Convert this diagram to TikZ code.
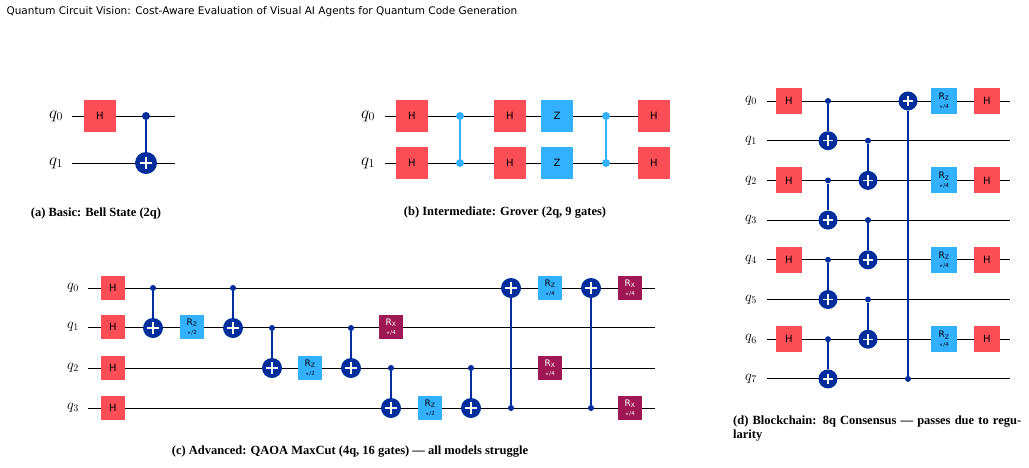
\documentclass[tikz,border=0pt]{standalone}
\usepackage{fontspec}
\setmainfont{Liberation Serif}
\newfontfamily\gatefont{DejaVu Sans}
\newfontfamily\titlefont{DejaVu Sans}
\usepackage{amsmath}
\definecolor{hred}{HTML}{FA4D56}
\definecolor{rzblue}{HTML}{33B1FF}
\definecolor{rxred}{HTML}{9F1853}
\definecolor{cxnavy}{HTML}{002D9C}
\tikzset{
  wire/.style={line width=1pt},
  gate/.style={minimum width=#1, minimum height=#1, inner sep=0pt, font=\gatefont\fontsize{10}{11}\selectfont, align=center},
  hg/.style={gate=#1, fill=hred},
  rz/.style={gate=#1, fill=rzblue},
  rx/.style={gate=#1, fill=rxred, text=white},
  ctrl/.style={circle, fill=cxnavy, minimum size=6pt, inner sep=0pt},
  czdot/.style={circle, fill=rzblue, minimum size=6pt, inner sep=0pt},
  tgt/.style={circle, fill=cxnavy, minimum size=#1, inner sep=0pt,
    path picture={\draw[white, line width=1.4pt]
      ([yshift=-0.22*#1]path picture bounding box.north) -- ([yshift=0.22*#1]path picture bounding box.south)
      ([xshift=0.22*#1]path picture bounding box.west) -- ([xshift=-0.22*#1]path picture bounding box.east);}},
  qlab/.style={font=\fontsize{#1}{#1}\selectfont},
  subcap/.style={font=\bfseries\fontsize{12.5}{15}\selectfont}
}
\newcommand{\rlab}[2]{{\fontsize{9}{9}\selectfont R\textsubscript{#1}}\\[-2pt]{\fontsize{5.5}{6}\selectfont $\pi$/#2}}
\begin{document}
\begin{tikzpicture}[x=1pt,y=-1pt]
\useasboundingbox (0,0) rectangle (1029,467);
\node[anchor=west, font=\titlefont\fontsize{10.5}{12}\selectfont] (title) at (3,12) {Quantum Circuit Vision: Cost-Aware Evaluation of Visual AI Agents for Quantum Code Generation};

% (a) Bell
\foreach \i/\y in {0/116,1/163} {
  \node[qlab=17] (aq\i) at (56,\y) {$q_\i$};
  \coordinate (as\i) at (72,\y); \coordinate (ae\i) at (175,\y);
  \draw[wire] (as\i) -- (ae\i);
}
\node[hg=32pt] (ah) at (100,116) {H};
\node[ctrl, minimum size=8pt] (ac) at (146,116) {};
\node[tgt=22pt] (at) at (146,163) {};
\draw[cxnavy, line width=1.2pt] (ac) -- (at);
\node[subcap] (acap) at (96,213) {(a) Basic: Bell State (2q)};

% (b) Grover
\foreach \i/\y in {0/116,1/163} {
  \node[qlab=17] (bq\i) at (368,\y) {$q_\i$};
  \coordinate (bs\i) at (385,\y); \coordinate (be\i) at (670,\y);
  \draw[wire] (bs\i) -- (be\i);
  \node[hg=32pt] (bha\i) at (412,\y) {H};
  \node[hg=32pt] (bhb\i) at (510,\y) {H};
  \node[rz=32pt] (bz\i) at (557,\y) {Z};
  \node[hg=32pt] (bhc\i) at (654,\y) {H};
}
\foreach \n/\x in {a/460,b/606} {
  \node[czdot, minimum size=8pt] (bc\n0) at (\x,116) {};
  \node[czdot, minimum size=8pt] (bc\n1) at (\x,163) {};
  \draw[rzblue, line width=1.5pt] (bc\n0) -- (bc\n1);
}
\node[subcap] (bcap) at (505,213) {(b) Intermediate: Grover (2q, 9 gates)};

% (c) QAOA
\foreach \i/\y in {0/288,1/327,2/368,3/408} {
  \node[qlab=14] (cq\i) at (73,\y) {$q_\i$};
  \coordinate (cs\i) at (88,\y); \coordinate (ce\i) at (655,\y);
  \draw[wire] (cs\i) -- (ce\i);
  \node[hg=24pt] (ch\i) at (113,\y) {H};
}
\foreach \k/\x/\c/\t in {1/153/0/1, 2/233/0/1, 3/272/1/2, 4/351/1/2, 5/391/2/3, 6/471/2/3, 7/511/3/0, 8/591/3/0} {
  \pgfmathsetmacro{\yc}{288+40*\c}
  \pgfmathsetmacro{\yt}{288+40*\t}
  \node[ctrl] (cc\k) at (\x,\yc) {};
  \node[tgt=20pt] (ct\k) at (\x,\yt) {};
  \draw[cxnavy, line width=1.2pt] (cc\k) -- (ct\k);
}
\node[rz=24pt] (crz1) at (192,327) {\rlab{Z}{2}};
\node[rz=24pt] (crz2) at (310,368) {\rlab{Z}{2}};
\node[rz=24pt] (crz3) at (430,408) {\rlab{Z}{2}};
\node[rz=24pt] (crz4) at (550,288) {\rlab{Z}{4}};
\node[rx=24pt] (crx1) at (391,327) {\rlab{X}{4}};
\node[rx=24pt] (crx2) at (550,368) {\rlab{X}{4}};
\node[rx=24pt] (crx3) at (630,288) {\rlab{X}{4}};
\node[rx=24pt] (crx4) at (630,408) {\rlab{X}{4}};
\node[subcap] (ccap) at (350,452) {(c) Advanced: QAOA MaxCut (4q, 16 gates) --- all models struggle};

% (d) Blockchain
\foreach \i in {0,...,7} {
  \pgfmathsetmacro{\y}{101+39.7*\i}
  \node[qlab=14] (dq\i) at (751,\y) {$q_\i$};
  \coordinate (ds\i) at (767,\y); \coordinate (de\i) at (1010,\y);
  \draw[wire] (ds\i) -- (de\i);
}
\foreach \i in {0,2,4,6} {
  \pgfmathsetmacro{\y}{101+39.7*\i}
  \node[hg=26pt] (dh\i) at (789,\y) {H};
  \node[rz=26pt] (drz\i) at (944,\y) {\rlab{Z}{4}};
  \node[hg=26pt] (dhb\i) at (987,\y) {H};
}
\foreach \k/\x/\c/\t in {1/828/0/1, 2/828/2/3, 3/828/4/5, 4/828/6/7, 5/868/1/2, 6/868/3/4, 7/868/5/6, 8/908/7/0} {
  \pgfmathsetmacro{\yc}{101+39.7*\c}
  \pgfmathsetmacro{\yt}{101+39.7*\t}
  \node[ctrl] (dc\k) at (\x,\yc) {};
  \node[tgt=19pt] (dt\k) at (\x,\yt) {};
  \draw[cxnavy, line width=1.2pt] (dc\k) -- (dt\k);
}
\node[subcap, anchor=north west, text width=290pt, align=left, inner sep=0pt, font=\bfseries\fontsize{12.5}{14}\selectfont] (dcap) at (733,416) {(d) Blockchain: 8q Consensus --- passes due to re\-gu\-la\-ri\-ty};
\end{tikzpicture}
\end{document}
